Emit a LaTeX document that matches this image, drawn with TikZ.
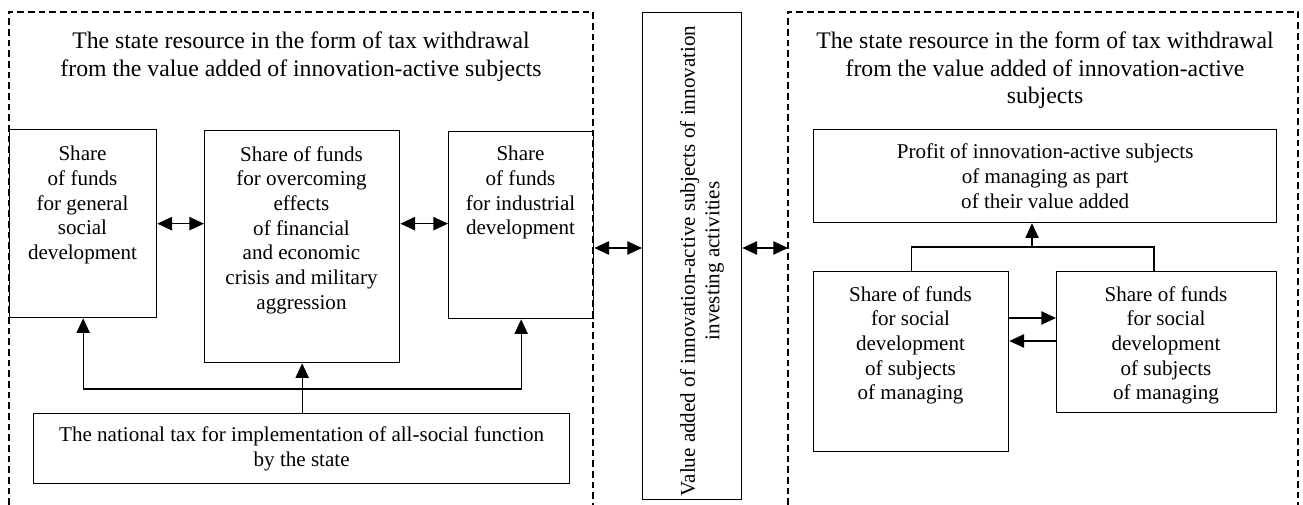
\documentclass[tikz,border=0pt]{standalone}
\usepackage{fontspec}
\setmainfont{Liberation Serif}
\usetikzlibrary{arrows.meta}
\begin{document}
\begin{tikzpicture}[x=0.75pt,y=-0.75pt,
  font=\fontsize{15.8}{18.5}\selectfont,
  box/.style={draw, line width=1pt, inner sep=0pt, anchor=north west, align=center},
  lbl/.style={align=center, inner sep=0pt, anchor=north},
  ttl/.style={align=center, inner sep=0pt, anchor=north, font=\fontsize{17.8}{20.4}\selectfont},
  frame/.style={line width=1pt, dash pattern=on 5pt off 3pt},
  arr/.style={line width=1pt, -{Triangle[length=11pt,width=10pt]}},
  darr/.style={line width=1pt, {Triangle[length=11pt,width=10pt]}-{Triangle[length=11pt,width=10pt]}},
  link/.style={line width=1pt},
]
\useasboundingbox (0,0) rectangle (1303,505);

% dashed frames
\draw[frame] (9,505) -- (9,12) -- (593,12) -- (593,505);
\draw[frame] (788,505) -- (788,12) -- (1298,12) -- (1298,505);

% titles
\node[ttl] (ltitle) at (301,32) {The state resource in the form of tax withdrawal\\from the value added of innovation-active subjects};
\node[ttl] (rtitle) at (1045,32) {The state resource in the form of tax withdrawal\\from the value added of innovation-active\\subjects};

% left boxes
\node[box, minimum width=110.25pt, minimum height=141pt] (A) at (9,129) {};
\node[lbl] (Atext) at (82.5,146) {Share\\of funds\\for general\\social\\development};
\node[box, minimum width=146.25pt, minimum height=174pt] (B) at (204,130) {};
\node[lbl] (Btext) at (301.5,146) {Share of funds\\for overcoming\\effects\\of financial\\and economic\\crisis and military\\aggression};
\node[box, minimum width=108.75pt, minimum height=140.25pt] (C) at (448,131) {};
\node[lbl] (Ctext) at (520.5,146) {Share\\of funds\\for industrial\\development};
\node[box, minimum width=402pt, minimum height=52.5pt] (tax) at (33,413) {The national tax for implementation of all-social function\\by the state};

% middle box
\node[box, minimum width=74.25pt, minimum height=365.25pt] (mid) at (642,12) {};
\node[inner sep=0pt, align=center, rotate=90] (midtext) at (702,261) {Value added of innovation-active subjects of innovation\\investing activities};

% right boxes
\node[box, minimum width=347.25pt, minimum height=69.75pt] (profit) at (813,129) {Profit of innovation-active subjects\\of managing as part\\of their value added};
\node[box, minimum width=146.25pt, minimum height=135pt] (D) at (813,271) {};
\node[lbl] (Dtext) at (910.5,286) {Share of funds\\for social\\development\\of subjects\\of managing};
\node[box, minimum width=165pt, minimum height=105.75pt] (E) at (1056,271) {};
\node[lbl] (Etext) at (1166,286) {Share of funds\\for social\\development\\of subjects\\of managing};

% helper coordinates
\coordinate (lvl) at (0,248);
\coordinate (rframe) at (788,248);
\coordinate (hl) at (0,389);
\coordinate (rj) at (1032,247);
\coordinate (ej) at (1154,247);
\coordinate (de1) at (0,318);
\coordinate (de2) at (0,341);

% left connectors
\draw[darr] (A.east) -- (A.east -| B.west);
\draw[darr] (A.east -| B.east) -- (A.east -| C.west);
\draw[arr] (tax.north -| B.south) -- (B.south);
\draw[arr] (hl -| B.south) -| (A.south);
\draw[arr] (hl -| B.south) -| (C.south);

% middle connectors
\draw[darr] (C.east |- lvl) -- (mid.west |- lvl);
\draw[darr] (mid.east |- lvl) -- (rframe);

% right connectors
\draw[arr] (rj) -- (rj |- profit.south);
\draw[link] (D.north) |- (ej) -- (ej |- E.north);
\draw[arr] (D.east |- de1) -- (E.west |- de1);
\draw[arr] (E.west |- de2) -- (D.east |- de2);
\end{tikzpicture}
\end{document}
